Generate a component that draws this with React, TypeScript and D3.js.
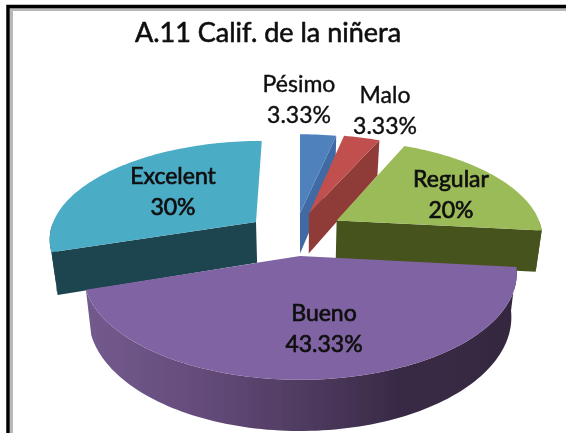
import React from "react";
import * as d3 from "d3";

const W = 566, H = 433;
const title = "A.11 Calif. de la niñera";
const categories = ["Pésimo", "Malo", "Regular", "Bueno", "Excelent"];
const values = [3.33, 3.33, 20, 43.33, 30];
const valueLabels = ["3.33%", "3.33%", "20%", "43.33%", "30%"];
const topColors = ["#4f81bd", "#c0504d", "#9bbb59", "#8064a2", "#4bacc6"];
const sideColors = ["#3f6ba3", "#8f3b39", "#46521f", "url(#purpleSide)", "#1f4450"];
const explodeX = [0, 0.045, 0.181, 0, -0.217];
const explodeZ = [0.44, 0.44, 0.36, 0, 0.345];
const labelX = [299, 385, 451, 324, 173];
const labelY = [92, 103, 187, 321, 184];
const drawOrder = [4, 0, 1, 2, 3];

const CX = 300, CY = 256, RX = 214, RY = 104, K = 0.16, DEPTH = 43, BOTTOM_SCALE = 0.975;

type Pt = [number, number];
const project = (X: number, Z: number, bottom = false): Pt => {
  const d = 1 + K * Z;
  const x = CX + (RX * X) / d;
  const y = CY - (RY * Z) / d;
  if (!bottom) return [x, y];
  return [CX + (x - CX) * BOTTOM_SCALE, y + DEPTH / d];
};

const line = d3.line<Pt>().x((d) => d[0]).y((d) => d[1]);
const FONT = "Lato, 'Open Sans', sans-serif";

export default function App() {
  const arcs = d3.pie<number>().sort(null).startAngle(0).endAngle(2 * Math.PI)(values);

  const shapes = drawOrder.map((i) => {
    const a = arcs[i];
    const ox = explodeX[i], oz = explodeZ[i];
    const n = Math.max(4, Math.ceil((a.endAngle - a.startAngle) * 40));
    const angles = d3.range(n + 1).map((t) => a.startAngle + ((a.endAngle - a.startAngle) * t) / n);
    const rim = (b: boolean) => angles.map((t) => project(ox + Math.sin(t), oz + Math.cos(t), b));
    const apex = project(ox, oz), apexB = project(ox, oz, true);
    const top = rim(false), bot = rim(true);
    const paths: { d: string; fill: string }[] = [];
    // cut faces: only those whose outward normal points at the viewer
    if (Math.cos(a.startAngle - Math.PI / 2) < -1e-6)
      paths.push({ d: line([apex, top[0], bot[0], apexB])! + "Z", fill: sideColors[i] });
    if (Math.cos(a.endAngle + Math.PI / 2) < -1e-6)
      paths.push({ d: line([apex, top[n], bot[n], apexB])! + "Z", fill: sideColors[i] });
    // outer wall, front part only
    const front = d3.range(n + 1).filter((t) => Math.cos(angles[t]) < 0);
    if (front.length > 1) {
      const tt = front.map((t) => top[t]);
      const bb = front.map((t) => bot[t]).reverse();
      paths.push({ d: line([...tt, ...bb])! + "Z", fill: sideColors[i] });
    }
    paths.push({ d: line([apex, ...top])! + "Z", fill: topColors[i] });
    return { i, paths };
  });

  return (
    <svg
      width={W}
      height={H}
      viewBox={`0 0 ${W} ${H}`}
      style={{ position: "fixed", left: 0, top: 0, background: "#fff" }}
    >
      <defs>
        <linearGradient id="purpleSide" gradientUnits="userSpaceOnUse" x1={88} x2={520} y1={0} y2={0}>
          <stop offset="0" stopColor="#735a8e" />
          <stop offset="0.25" stopColor="#654c7c" />
          <stop offset="0.5" stopColor="#4f3b60" />
          <stop offset="0.72" stopColor="#382a46" />
          <stop offset="1" stopColor="#352840" />
        </linearGradient>
        <filter id="soft" x="-5%" y="-5%" width="110%" height="110%">
          <feGaussianBlur stdDeviation="0.6" />
        </filter>
      </defs>
      <g filter="url(#soft)">
        <path d={`M11.5 ${H + 5}V9.5H${W + 5}`} fill="none" stroke="#b8b8b8" strokeWidth={3} />
        <path d={`M8 ${H + 5}V6.5H${W + 5}`} fill="none" stroke="#000" strokeWidth={3.5} />
        {shapes.map((s) => (
          <g key={s.i}>
            {s.paths.map((p, j) => (
              <path key={j} d={p.d} fill={p.fill} />
            ))}
          </g>
        ))}
        <text x={268} y={42} textAnchor="middle" fontFamily={FONT} fontSize={27} stroke="#111" strokeWidth={0.6} fill="#111">
          {title}
        </text>
        {categories.map((c, i) => (
          <text key={c} textAnchor="middle" fontFamily={FONT} fontSize={23} stroke="#111" strokeWidth={i < 2 ? 0.4 : 0.7} fill="#111">
            <tspan x={labelX[i]} y={labelY[i]}>{c}</tspan>
            <tspan x={labelX[i]} y={labelY[i] + 31}>{valueLabels[i]}</tspan>
          </text>
        ))}
      </g>
    </svg>
  );
}
